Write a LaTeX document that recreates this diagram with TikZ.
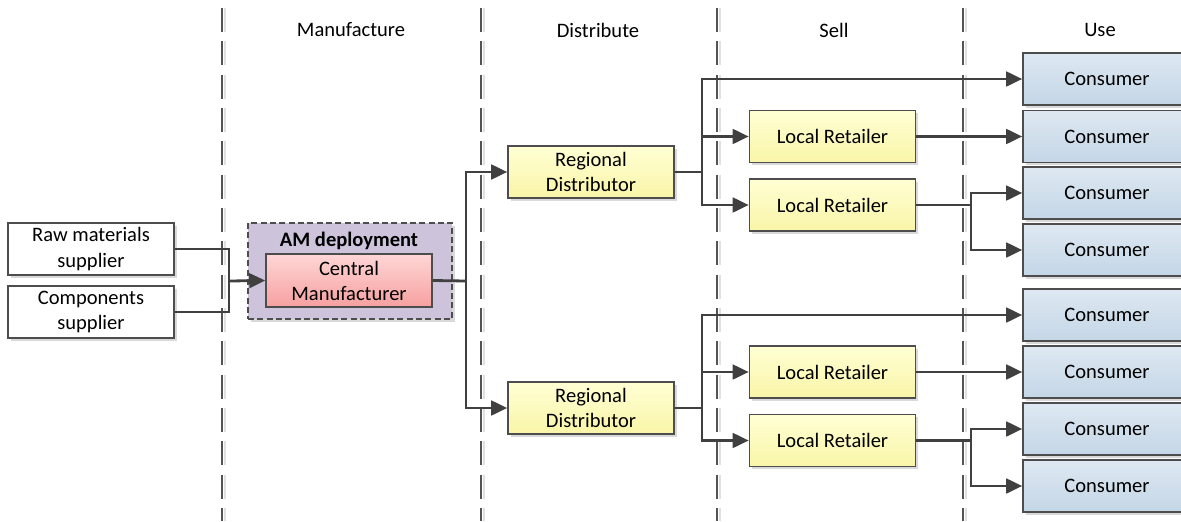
\documentclass[tikz,border=0pt]{standalone}
\usepackage{fontspec}
\setmainfont{Carlito}
\usetikzlibrary{arrows.meta,shadows,positioning}
\definecolor{ln}{HTML}{404040}
\definecolor{bd}{HTML}{4D4D4D}
\begin{document}
\begin{tikzpicture}[x=0.75pt,y=-0.75pt,
  font=\fontsize{15.4}{18.8}\selectfont,
  base/.style={draw=bd,line width=1.2pt,align=center,inner sep=0pt,
    drop shadow={shadow xshift=2pt,shadow yshift=-2pt,fill=black,opacity=0.15}},
  whitebox/.style={base,fill=white,minimum width=124.5pt,minimum height=39pt},
  ybox/.style={base,top color={rgb,255:red,255;green,255;blue,212},bottom color={rgb,255:red,249;green,245;blue,168},minimum width=124.5pt,minimum height=39pt},
  cbox/.style={base,top color={rgb,255:red,222;green,232;blue,242},bottom color={rgb,255:red,196;green,214;blue,230},minimum width=126pt,minimum height=39pt},
  pbox/.style={draw=bd,line width=1.2pt,align=center,inner sep=0pt,top color={rgb,255:red,255;green,214;blue,214},bottom color={rgb,255:red,246;green,160;blue,160},minimum width=124.5pt,minimum height=39.5pt},
  ambox/.style={draw=bd,dash pattern=on 4.5pt off 2.5pt,line width=1.2pt,fill={rgb,255:red,205;green,196;blue,220},minimum width=153pt,minimum height=72pt,inner sep=0pt,
    drop shadow={shadow xshift=2pt,shadow yshift=-2pt,fill=black,opacity=0.15}},
  conn/.style={draw=ln,line width=2.1pt},
  arr/.style={conn,-{Triangle[length=12pt,width=11pt]}},
  sep/.style={draw=ln!90,line width=1.1pt,dash pattern=on 18pt off 7pt},
  sepsh/.style={draw=black!12,line width=1.5pt,dash pattern=on 18pt off 7pt},
  hdr/.style={inner sep=0pt}
]
\useasboundingbox (0,0) rectangle (1181,521);
% separators
\foreach \xx/\nm in {222/s1,481/s2,717/s3,963/s4}{
  \coordinate (\nm t) at (\xx,8);
  \coordinate (\nm b) at (\xx,521);
  \draw[sepsh] ([xshift=2pt]\nm t) -- ([xshift=2pt]\nm b);
  \draw[sep] (\nm t) -- (\nm b);
}
% headers
\node[hdr] (hM) at (351,30) {Manufacture};
\node[hdr] (hD) at (598,30) {Distribute};
\node[hdr] (hS) at (834,30) {Sell};
\node[hdr] (hU) at (1100,30) {Use};
% suppliers
\node[whitebox] (raw) at (91,249) {Raw materials\\supplier};
\node[whitebox] (comp) at (91,312) {Components\\supplier};
% AM deployment
\node[ambox] (am) at (350,271) {};
\node[inner sep=0pt,font=\fontsize{15.4}{18.8}\selectfont\bfseries] (amt) at (349,241) {AM deployment};
\node[pbox] (cm) at (349,280.5) {Central\\Manufacturer};
% distributors
\node[ybox] (d1) at (591,172) {Regional\\Distributor};
\node[ybox] (d2) at (591,408) {Regional\\Distributor};
% retailers
\node[ybox] (r1) at (832.5,136.5) {Local Retailer};
\node[ybox] (r2) at (832.5,205) {Local Retailer};
\node[ybox] (r3) at (832.5,372) {Local Retailer};
\node[ybox] (r4) at (832.5,440.5) {Local Retailer};
% consumers
\foreach \yy/\nm in {79/c1,136.5/c2,193/c3,250/c4,315/c5,372/c6,429/c7,486/c8}{
  \node[cbox] (\nm) at (1107,\yy) {Consumer};
}
% junctions
\coordinate (j1) at (229,281);
\coordinate (j2) at (466,281);
\coordinate (j3) at (702,172);
\coordinate (j4) at (702,408);
\coordinate (j5) at (971,205);
\coordinate (j6) at (971,440.5);
% connectors
\draw[conn] (raw.east) -| (j1);
\draw[conn] (comp.east) -| (j1);
\draw[arr] (j1) -- (cm.west);
\draw[conn] (cm.east) -- (j2);
\draw[arr] (j2) |- (d1.west);
\draw[arr] (j2) |- (d2.west);
\draw[conn] (d1.east) -- (j3);
\draw[arr] (j3) |- (c1.west);
\draw[arr] (j3) |- (r1.west);
\draw[arr] (j3) |- (r2.west);
\draw[conn] (d2.east) -- (j4);
\draw[arr] (j4) |- (c5.west);
\draw[arr] (j4) |- (r3.west);
\draw[arr] (j4) |- (r4.west);
\draw[arr] (r1.east) -- (c2.west);
\draw[arr] (r3.east) -- (c6.west);
\draw[conn] (r2.east) -- (j5);
\draw[arr] (j5) |- (c3.west);
\draw[arr] (j5) |- (c4.west);
\draw[conn] (r4.east) -- (j6);
\draw[arr] (j6) |- (c7.west);
\draw[arr] (j6) |- (c8.west);
\end{tikzpicture}
\end{document}
